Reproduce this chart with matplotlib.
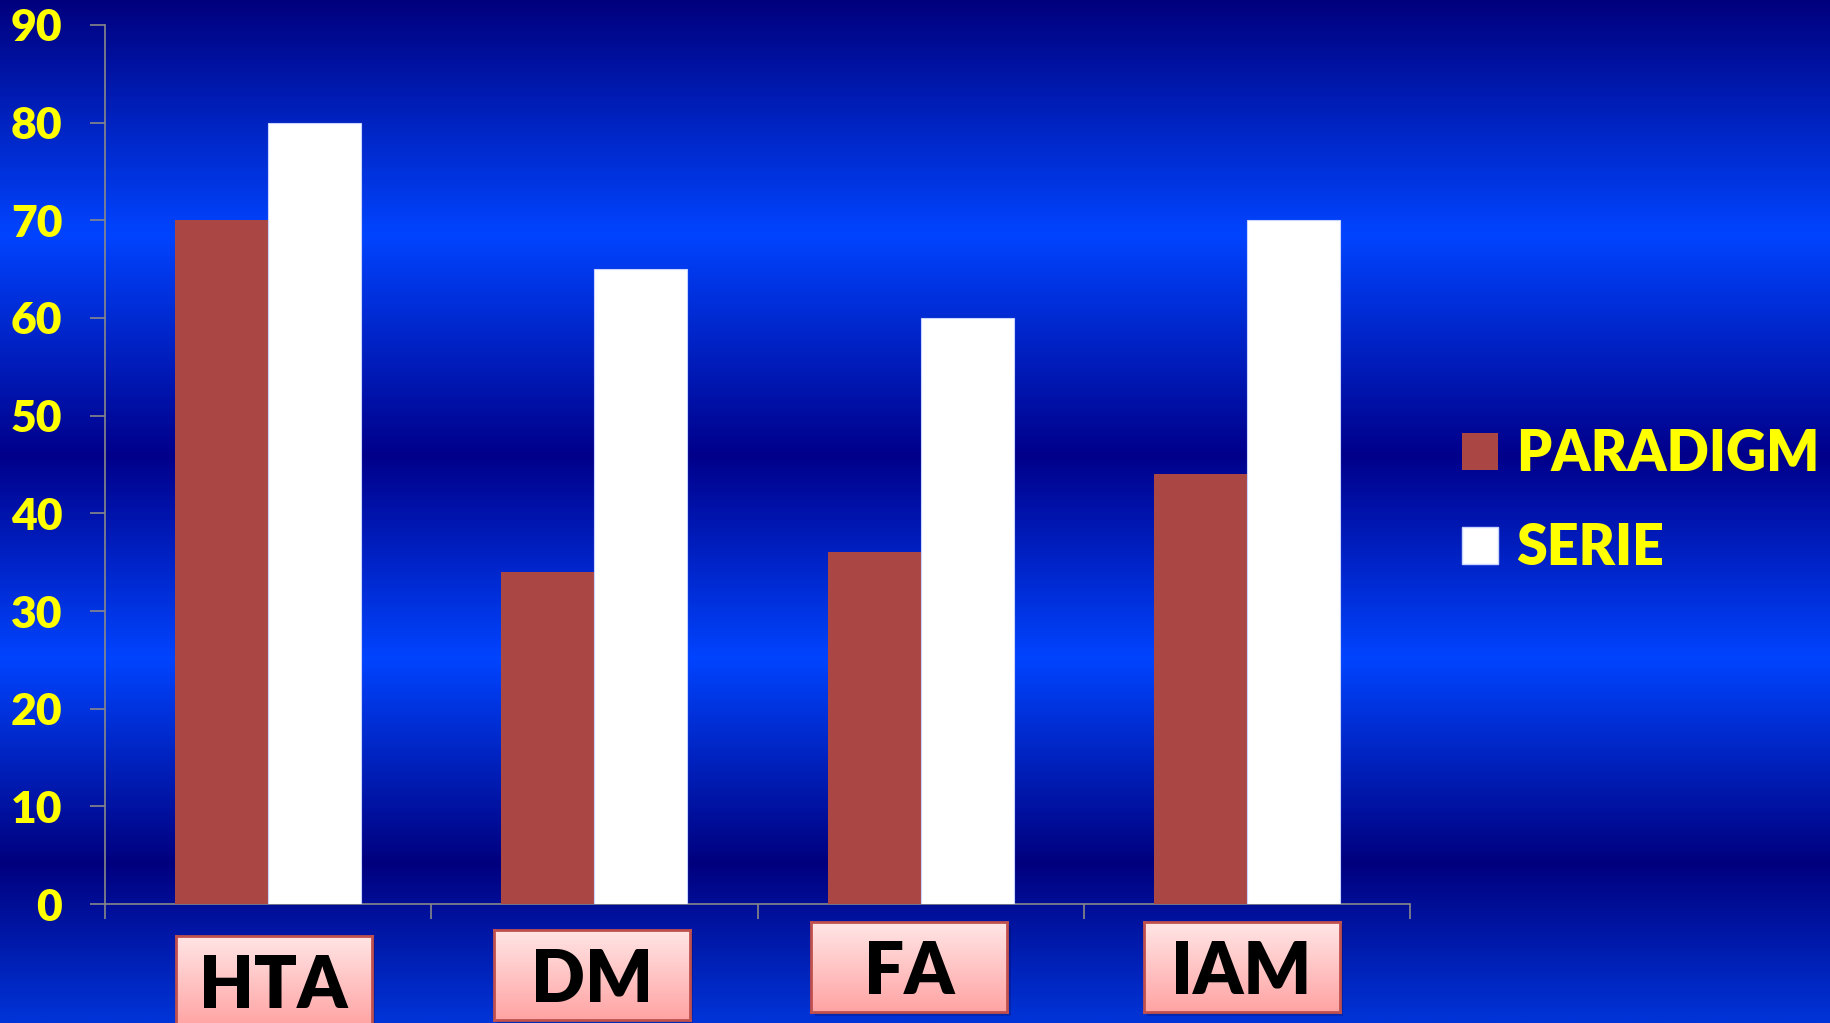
import numpy as np
import matplotlib
matplotlib.use("Agg")
import matplotlib.pyplot as plt
from matplotlib.colors import LinearSegmentedColormap
from matplotlib.patches import Patch

# chart data
categories = ["HTA", "DM", "FA", "IAM"]
paradigm = [70, 34, 36, 44]
serie = [80, 65, 60, 70]
series_names = ["PARADIGM", "SERIE"]
y_ticks = [0, 10, 20, 30, 40, 50, 60, 70, 80, 90]

# label box layout (offset from category centre in data units, top in fig fraction)
box_dx = [0.017, -0.008, -0.035, -0.016]
box_top = [0.085, 0.091, 0.099, 0.099]

plt.rcParams['font.family'] = ['Lato', 'DejaVu Sans']

fig = plt.figure(figsize=(18.3, 10.23), dpi=100)

# gradient background like the slide
bg = fig.add_axes([0, 0, 1, 1], zorder=-10)
bg_cmap = LinearSegmentedColormap.from_list("bg", [
    (0.0, "#00007e"), (0.228, "#0044ff"), (0.445, "#00008a"),
    (0.644, "#0044ff"), (0.845, "#00007e"), (1.0, "#0034d8")])
grad = np.linspace(0, 1, 512).reshape(-1, 1)
bg.imshow(grad, cmap=bg_cmap, aspect="auto", extent=[0, 1, 0, 1], origin="upper")
bg.set_axis_off()

ax = fig.add_axes([0.0574, 0.1163, 0.7131, 0.8593])
ax.patch.set_alpha(0)

x = np.arange(len(categories))
w = 0.285
ax.bar(x - w / 2, paradigm, w, color="#aa4643", label=series_names[0], zorder=3)
ax.bar(x + w / 2, serie, w, color="white", edgecolor="#c8d4ff", linewidth=0.8,
       label=series_names[1], zorder=3)

ax.set_xlim(-0.5, len(categories) - 0.5)
ax.set_ylim(0, 90)
ax.set_yticks(y_ticks)
ax.set_xticks(np.arange(-0.5, len(categories), 1.0))
ax.set_xticklabels([])
for lbl in ax.get_yticklabels():
    lbl.set_fontweight("heavy")
ax.tick_params(axis="y", colors="#888888", labelcolor="#ffff00", labelsize=32,
               length=10.8, width=1.2, pad=20)
ax.tick_params(axis="x", colors="#888888", length=10.8, width=1.2)
for s in ["top", "right"]:
    ax.spines[s].set_visible(False)
for s in ["left", "bottom"]:
    ax.spines[s].set_color("#888888")
    ax.spines[s].set_linewidth(1.2)

# category label boxes
box_w, box_h = 196 / 1830, 90 / 1023
grad_box = np.linspace(0, 1, 256).reshape(-1, 1)
box_cmap = LinearSegmentedColormap.from_list("box", ["#ffe6e6", "#ffa3a3"])
inv = fig.transFigure.inverted()
for i, cat in enumerate(categories):
    cx = inv.transform(ax.transData.transform((x[i] + box_dx[i], 0)))[0]
    left = cx - box_w / 2
    bottom = box_top[i] - box_h
    sh = fig.add_axes([left + 0.002, bottom - 0.004, box_w, box_h], zorder=1)
    sh.set_facecolor((0, 0, 0.15, 0.2))
    sh.set_xticks([]); sh.set_yticks([])
    for s in sh.spines.values():
        s.set_visible(False)
    bx = fig.add_axes([left, bottom, box_w, box_h], zorder=2)
    bx.imshow(grad_box, cmap=box_cmap, aspect="auto", extent=[0, 1, 0, 1])
    bx.set_xticks([]); bx.set_yticks([])
    for s in bx.spines.values():
        s.set_color("#c0504d")
        s.set_linewidth(2)
    bx.text(0.5, 0.2, cat, ha="center", va="baseline", fontsize=51,
            fontweight="heavy", color="black", transform=bx.transAxes)

handles = [Patch(facecolor="#aa4643"), Patch(facecolor="white", edgecolor="#c8d4ff")]
leg = fig.legend(handles, series_names, loc="center left",
                 bbox_to_anchor=(0.799, 0.51), frameon=False, fontsize=40,
                 handlelength=0.65, handleheight=0.65, handletextpad=0.32,
                 labelspacing=0.75, borderpad=0, borderaxespad=0)
for t in leg.get_texts():
    t.set_color("#ffff00")
    t.set_fontweight("heavy")

fig.savefig("out.png", dpi=100)
